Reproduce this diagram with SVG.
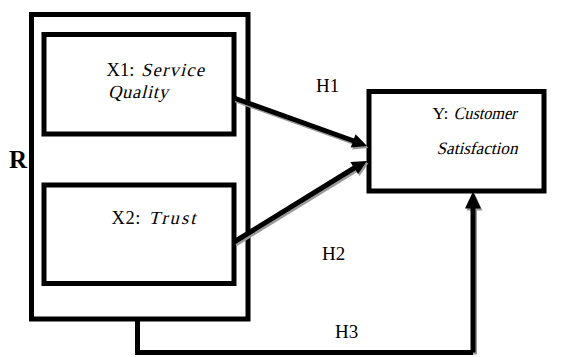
<svg xmlns="http://www.w3.org/2000/svg" xmlns:xlink="http://www.w3.org/1999/xlink" width="569" height="357" viewBox="0 0 569 357">
<style>
.box{fill:none;stroke:#000;stroke-width:5;}
.t{font-family:"Liberation Serif","Times New Roman",serif;font-size:18.5px;fill:#000;}
.y{font-size:17.5px;}
.h{font-family:"Liberation Serif","Times New Roman",serif;font-size:19px;fill:#000;}
.ln{fill:none;stroke:currentColor;stroke-width:5;}
.ah{fill:currentColor;stroke:none;}
</style>
<defs>
<g id="arrowShapes">
<line class="ln" x1="234" y1="98" x2="354" y2="141"/>
<polygon class="ah" points="367,146 350.7,147.5 355.6,134.3"/>
<line class="ln" x1="234" y1="242" x2="355" y2="167.5"/>
<polygon class="ah" points="367,161 358.1,174 350.3,162"/>
<polyline class="ln" points="473,352.5 473,206"/>
<polygon class="ah" points="473,191.5 465,208.5 481,208.5"/>
</g>
</defs>
<rect width="569" height="357" fill="#fff"/>
<g id="node-R">
<rect class="box" x="31.5" y="14.5" width="216.5" height="304.5"/>
<text x="9" y="168" font-family="Liberation Serif,'Times New Roman',serif" font-size="25" font-weight="bold">R</text>
</g>
<g id="node-X1">
<rect class="box" x="44" y="34.5" width="190" height="99.5"/>
<text class="t" x="106.5" y="75.5" textLength="28" lengthAdjust="spacing">X1:</text>
<text class="t" transform="translate(141,75.5) skewX(-14)" textLength="63" lengthAdjust="spacing">Service</text>
<text class="t" transform="translate(108,98) skewX(-14)" textLength="60" lengthAdjust="spacing">Quality</text>
</g>
<g id="node-X2">
<rect class="box" x="44" y="185" width="190" height="98.5"/>
<text class="t" x="111.5" y="224" textLength="29" lengthAdjust="spacing">X2:</text>
<text class="t" transform="translate(148.5,224) skewX(-14)" textLength="47" lengthAdjust="spacing">Trust</text>
</g>
<g id="node-Y">
<rect class="box" x="369" y="91.5" width="175" height="99.5"/>
<text class="t y" x="432.5" y="118.5">Y:</text>
<text class="t y" transform="translate(453.5,118.5) skewX(-14)" textLength="63" lengthAdjust="spacingAndGlyphs">Customer</text>
<text class="t y" transform="translate(436.5,153.5) skewX(-14)" textLength="81" lengthAdjust="spacingAndGlyphs">Satisfaction</text>
</g>
<g id="connectors">
<use xlink:href="#arrowShapes" transform="translate(1.5,2)" style="color:#9a9a9a"/>
<use xlink:href="#arrowShapes" style="color:#000"/>
<polyline points="137.5,319 137.5,352.5 473,352.5" fill="none" stroke="#000" stroke-width="5"/>
<text class="h" x="316" y="92">H1</text>
<text class="h" x="322" y="260">H2</text>
<text class="h" x="335" y="338">H3</text>
</g>
</svg>
